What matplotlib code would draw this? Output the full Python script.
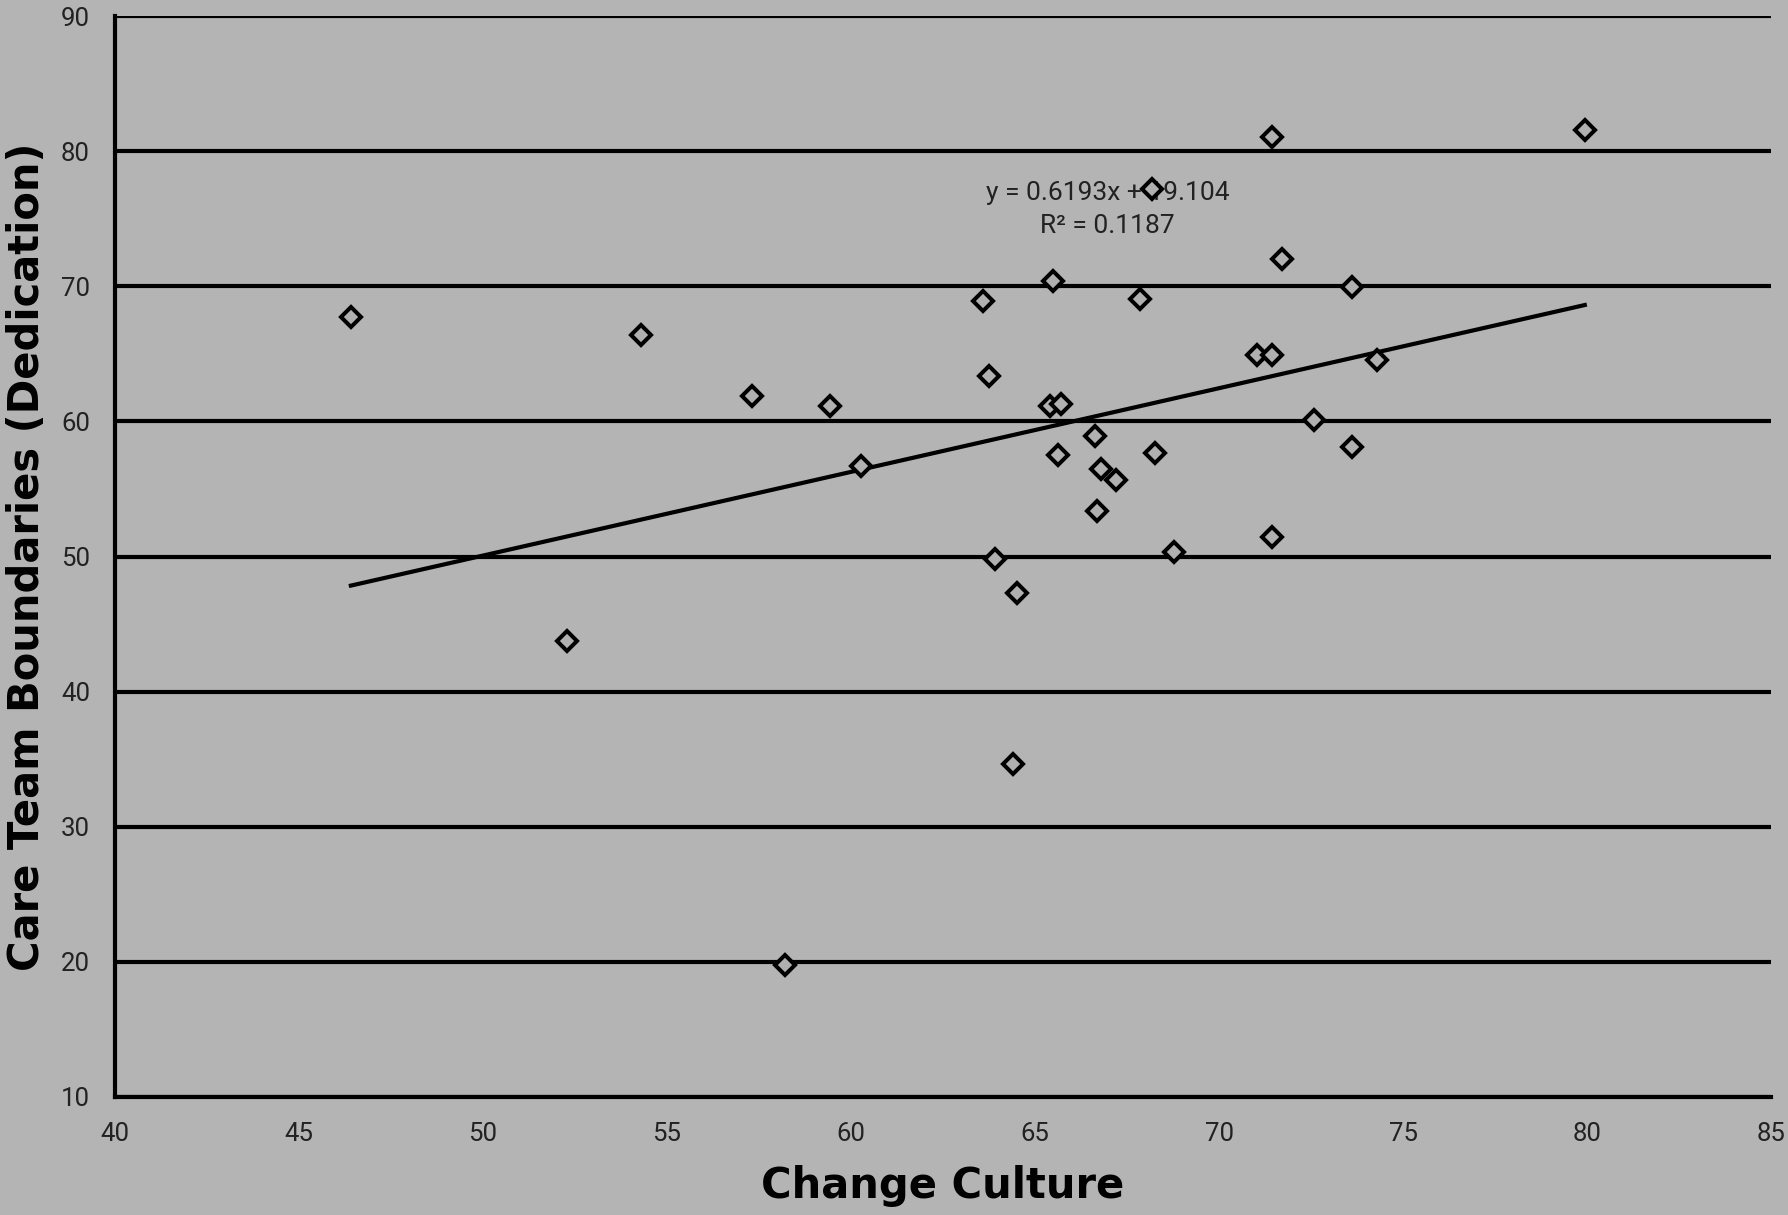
import matplotlib
matplotlib.use("Agg")
import matplotlib.pyplot as plt
import numpy as np

# ---- data ----
change_culture = [46.41, 52.27, 54.29, 57.32, 59.43, 60.27, 58.22, 63.58, 63.74, 63.92,
                  64.51, 64.39, 65.50, 65.41, 65.72, 65.63, 66.62, 66.80, 67.21, 66.68,
                  67.86, 68.17, 68.26, 68.79, 71.02, 71.45, 71.45, 71.70, 71.45, 72.57,
                  73.62, 73.62, 74.30, 79.94]
dedication = [67.72, 43.76, 66.37, 61.90, 61.14, 56.67, 19.79, 68.90, 63.33, 49.83,
              47.30, 34.64, 70.42, 61.14, 61.31, 57.51, 58.95, 56.50, 55.65, 53.38,
              69.07, 77.17, 57.68, 50.34, 64.94, 64.94, 81.05, 72.03, 51.43, 60.13,
              69.92, 58.10, 64.51, 81.56]
slope = 0.6193
intercept = 19.104
r_squared = 0.1187
x_ticks = [40, 45, 50, 55, 60, 65, 70, 75, 80, 85]
y_ticks = [10, 20, 30, 40, 50, 60, 70, 80, 90]
x_label = "Change Culture"
y_label = "Care Team Boundaries (Dedication)"

BG = "#b4b4b4"
LW = 3.0

fig = plt.figure(figsize=(17.88, 12.15), dpi=100, facecolor=BG)
ax = fig.add_axes([115/1788, 1 - 1097/1215, (1771-115)/1788, (1097-16)/1215])
ax.set_facecolor(BG)

ax.set_xlim(40, 85)
ax.set_ylim(10, 90)
ax.set_xticks(x_ticks)
ax.set_yticks(y_ticks)

# horizontal gridlines
ax.yaxis.grid(True, color="black", linewidth=LW)
ax.xaxis.grid(False)
ax.set_axisbelow(True)

for s in ["top", "right"]:
    ax.spines[s].set_visible(False)
for s in ["left", "bottom"]:
    ax.spines[s].set_color("black")
    ax.spines[s].set_linewidth(LW)

ax.tick_params(axis="both", length=0, pad=18, labelsize=18.5, labelcolor="#222222")
for lab in ax.get_xticklabels() + ax.get_yticklabels():
    lab.set_fontfamily("Roboto")

# trendline
xs = np.array([min(change_culture), max(change_culture)])
ax.plot(xs, slope * xs + intercept, color="black", linewidth=LW, zorder=3)

# scatter
ax.plot(change_culture, dedication, linestyle="none", marker="D", markersize=10.5,
        markerfacecolor="#b0b0b0", markeredgecolor="black", markeredgewidth=2.9,
        zorder=4)

# equation text
ax.text(66.97, 76.9, f"y = {slope}x + {intercept}", ha="center", va="center",
        fontsize=19, family="Roboto", color="#222222", zorder=2)
ax.text(66.97, 74.45, f"R\u00b2 = {r_squared}", ha="center", va="center",
        fontsize=19, family="Roboto", color="#222222", zorder=2)

fig.text(943/1788, 1 - 1186/1215, x_label, ha="center", va="center",
         fontsize=30, fontweight="bold", family="DejaVu Sans", color="black")
fig.text(27/1788, 1 - 557/1215, y_label, ha="center", va="center", rotation=90,
         fontsize=30, fontweight="bold", family="DejaVu Sans", color="black")

fig.savefig("out.png", dpi=100, facecolor=BG)
